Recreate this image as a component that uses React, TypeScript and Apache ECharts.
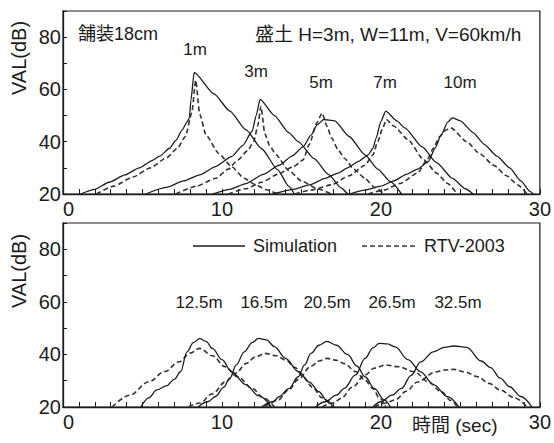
import { useEffect, useRef } from "react";
import * as echarts from "echarts";

// ---- axis ticks ----
const xMin = 0;
const xMax = 30;
const yMin = 20;
const yMax = 90;
const xLabelTicks = [0, 10, 20, 30];
const yLabelTicks = [20, 40, 60, 80];

// ---- labels ----
const topLabels = ["1m", "3m", "5m", "7m", "10m"];
const bottomLabels = ["12.5m", "16.5m", "20.5m", "26.5m", "32.5m"];
const topNote = "舗装18cm";
const topCondition = "盛土 H=3m, W=11m, V=60km/h";
const yName = "VAL(dB)";
const xName = "時間 (sec)";
const legendNames = ["Simulation", "RTV-2003"];

// ---- top panel: [time (sec), level (dB)] ----
const t1Sim = [[1.1, 20], [2.0, 21.8], [2.9, 24.5], [3.9, 27.3], [4.8, 30], [5.6, 32.8], [6.1, 34.5], [6.7, 37.5], [7.1, 40.5], [7.5, 44.5], [7.8, 47.5], [7.95, 49], [8.05, 56], [8.25, 66.5], [9.5, 58.3], [10.5, 51.7], [11.5, 44.6], [12.5, 37.3], [13.5, 29.3], [14.2, 23], [14.55, 20]];
const t1Rtv = [[2.1, 20], [3.2, 23], [4.4, 26.5], [5.5, 30], [6.5, 33.8], [7.2, 37.5], [7.7, 42], [8.1, 51], [8.35, 63.5], [8.6, 50.5], [9.0, 42.5], [9.8, 35.5], [10.6, 30.5], [11.4, 26], [12.1, 23.6], [12.8, 21.6], [13.5, 20]];
const t3Sim = [[5.2, 20], [6.5, 22.5], [7.6, 25], [8.6, 27.3], [9.6, 30.5], [10.6, 34.3], [11.3, 38.5], [11.9, 44], [12.15, 50], [12.4, 56.2], [13.3, 50], [14.2, 43.5], [14.8, 40], [15.8, 33.5], [16.7, 27.5], [17.5, 22.3], [17.9, 20]];
const t3Rtv = [[7.1, 20], [8.4, 23], [9.6, 26], [10.4, 29.5], [11.0, 33], [11.6, 36.5], [12.0, 40], [12.25, 46], [12.45, 53.5], [12.7, 43], [13.0, 38.5], [13.4, 35], [14.2, 29], [15.0, 25], [16.0, 22], [16.9, 20]];
const t5Sim = [[9.4, 20], [10.5, 21.8], [11.5, 24], [12.6, 27.5], [13.6, 31], [14.4, 34.5], [15.1, 38], [15.6, 42.5], [16.0, 46.5], [16.4, 48.5], [17.1, 48], [18.0, 42], [19.0, 35], [19.8, 29.5], [20.6, 24.7], [21.3, 20]];
const t5Rtv = [[10.4, 20], [11.5, 22], [12.5, 24.5], [13.5, 27.5], [14.5, 30.5], [15.1, 33], [15.5, 39], [15.95, 47], [16.3, 51], [16.6, 46], [16.9, 41.4], [17.3, 37], [17.7, 33.7], [18.3, 29.5], [19.0, 26], [19.6, 22.5], [20.2, 20]];
const t7Sim = [[13.2, 20], [14.5, 21.8], [15.5, 23.5], [16.5, 26], [17.3, 28], [17.9, 30], [18.6, 32.5], [19.2, 35], [19.5, 37.5], [19.7, 41.4], [20.0, 47.8], [20.3, 51.7], [21.0, 48], [21.5, 45.3], [22.6, 38], [23.5, 32], [24.5, 26], [25.3, 22], [25.8, 20]];
const t7Rtv = [[14.6, 20], [15.6, 21.5], [16.9, 23.5], [18.0, 27], [19.0, 31], [19.5, 35], [19.8, 40], [20.1, 45], [20.35, 48.5], [20.8, 46], [21.7, 40.8], [22.7, 33], [23.5, 28], [24.2, 24], [24.8, 20]];
const t10Sim = [[18.0, 20], [19.0, 21.5], [20.0, 23], [20.8, 25], [21.6, 27.5], [22.3, 29.5], [23.0, 32.5], [23.4, 37.5], [23.8, 42.7], [24.2, 47.5], [24.5, 49.1], [25.0, 48], [25.8, 43.5], [26.5, 39], [27.3, 34.5], [28.1, 30], [28.8, 25], [29.4, 20.9], [29.6, 20]];
const t10Rtv = [[19.2, 20], [20.2, 21.5], [21.2, 24], [22.3, 28], [22.9, 33], [23.3, 37.5], [23.7, 42], [24.1, 44.5], [24.4, 45.3], [25.4, 40], [26.2, 35.5], [27.1, 31], [27.9, 27], [28.6, 23.5], [29.2, 20]];

// ---- bottom panel: [time (sec), level (dB)] ----
const b12Sim = [[4.9, 20], [5.4, 23.5], [5.9, 26.5], [6.5, 28], [7.0, 30.5], [7.4, 33.5], [7.8, 41], [8.2, 44.5], [8.6, 46], [9.0, 45], [9.4, 42.3], [10.0, 38], [10.6, 33.4], [11.5, 28.5], [12.3, 24.3], [13.1, 20]];
const b12Rtv = [[3.1, 20], [4.2, 24.5], [5.4, 29.6], [6.4, 33.5], [7.3, 37.2], [8.0, 40.5], [8.6, 42.3], [9.4, 39.5], [10.2, 35.3], [11.0, 31.5], [11.9, 27.1], [12.6, 23.5], [13.3, 20]];
const b16Sim = [[8.5, 20], [9.1, 22], [9.6, 24], [10.1, 27.5], [10.5, 31], [10.9, 36], [11.4, 41], [11.9, 44.5], [12.3, 46.1], [12.8, 45.5], [13.3, 43], [14.0, 38.5], [14.8, 33.5], [15.5, 29.5], [16.1, 25.8], [16.6, 22.5], [17.0, 20]];
const b16Rtv = [[7.9, 20], [8.6, 21.5], [9.4, 25], [10.2, 29.5], [10.9, 33], [11.5, 36.5], [12.1, 39], [12.7, 40.4], [13.4, 39.5], [14.0, 37.9], [14.6, 35], [15.1, 31.5], [15.7, 27.5], [16.3, 23.5], [16.9, 20]];
const b20Sim = [[12.5, 20], [13.2, 22], [13.6, 23.9], [14.2, 27], [14.8, 31.5], [15.2, 36], [15.6, 40.4], [16.1, 43.5], [16.6, 45], [17.2, 43.5], [17.9, 40], [18.5, 35.5], [19.0, 31.5], [19.6, 27], [20.2, 22.7], [20.6, 20]];
const b20Rtv = [[12.7, 20], [13.5, 22.5], [14.2, 26.5], [14.8, 30.5], [15.6, 35.5], [16.1, 37.5], [16.6, 38.5], [17.2, 37.8], [17.7, 36.5], [18.4, 33.5], [19.0, 30.3], [19.5, 27], [19.9, 23.5], [20.3, 20]];
const b26Sim = [[15.9, 20], [16.5, 22], [17.2, 24.5], [17.7, 27.1], [18.4, 32.2], [19.0, 38.5], [19.5, 42.5], [19.9, 44.2], [20.4, 44], [20.9, 42.9], [21.7, 38], [22.5, 33.4], [23.3, 28.5], [24.2, 23.9], [24.9, 20]];
const b26Rtv = [[16.3, 20], [17.0, 21.5], [17.5, 23.3], [18.2, 27.5], [19.0, 32.2], [19.6, 34.8], [20.3, 36], [21.1, 35.3], [22.1, 33.4], [23.0, 29.5], [23.8, 25.8], [24.4, 22.5], [24.8, 20]];
const b32Sim = [[19.5, 20], [20.0, 22], [20.7, 24.5], [21.3, 27.1], [21.9, 32], [22.5, 37.2], [23.3, 41], [24.0, 42.7], [24.6, 43.2], [25.4, 42.7], [26.3, 37.5], [26.9, 35], [27.5, 31], [28.1, 27.7], [28.8, 24], [29.5, 20]];
const b32Rtv = [[19.6, 20], [20.3, 21.5], [20.9, 22.7], [21.6, 26], [22.3, 29.5], [23.4, 33.2], [24.0, 34.1], [24.6, 34.3], [25.3, 33.3], [26.1, 31.5], [26.8, 29], [27.5, 26.5], [28.4, 23.5], [29.2, 20]];

const topSim = [t1Sim, t3Sim, t5Sim, t7Sim, t10Sim];
const topRtv = [t1Rtv, t3Rtv, t5Rtv, t7Rtv, t10Rtv];
const botSim = [b12Sim, b16Sim, b20Sim, b26Sim, b32Sim];
const botRtv = [b12Rtv, b16Rtv, b20Rtv, b26Rtv, b32Rtv];

const FONT = "'Liberation Sans', Arial, 'Noto Sans CJK JP', sans-serif";
const INK = "#1c1c1c";
const DASH = [5, 3];

function makeSeries(data: number[][], dashed: boolean, idx: number, smooth: number) {
  return {
    type: "line",
    name: dashed ? legendNames[1] : legendNames[0],
    xAxisIndex: idx,
    yAxisIndex: idx,
    data,
    symbol: "none",
    showSymbol: false,
    smooth,
    smoothMonotone: "x",
    silent: true,
    z: dashed ? 2 : 3,
    itemStyle: { color: dashed ? "#333" : INK },
    lineStyle: {
      color: dashed ? "#333" : INK,
      width: dashed ? 1.6 : 1.3,
      type: dashed ? DASH : "solid",
    },
  };
}

function xAxisDef(idx: number) {
  return {
    type: "value",
    gridIndex: idx,
    min: xMin,
    max: xMax,
    interval: 1,
    axisLine: { show: true, lineStyle: { color: INK, width: 1.3 } },
    axisTick: { show: true, inside: true, length: 5, lineStyle: { color: INK, width: 1 } },
    axisLabel: {
      show: true,
      margin: 5,
      fontSize: 20,
      fontFamily: FONT,
      color: INK,
      alignMinLabel: "left",
      formatter: (v: number) => (xLabelTicks.includes(v) ? String(v) : ""),
    },
    splitLine: { show: false },
  };
}

function yAxisDef(idx: number) {
  return {
    type: "value",
    gridIndex: idx,
    min: yMin,
    max: yMax,
    interval: 10,
    axisLine: { show: true, lineStyle: { color: INK, width: 1.3 } },
    axisTick: { show: true, inside: true, length: 4, lineStyle: { color: INK, width: 1 } },
    axisLabel: {
      show: true,
      margin: 2,
      fontSize: 20,
      fontFamily: FONT,
      color: INK,
      formatter: (v: number) => (yLabelTicks.includes(v) ? String(v) : ""),
    },
    splitLine: { show: false },
  };
}

function textEl(text: string, x: number, y: number, size: number, align = "center", rotation = 0) {
  return {
    type: "text",
    x,
    y,
    rotation,
    silent: true,
    style: {
      text,
      fill: INK,
      font: `${size}px ${FONT}`,
      align,
      verticalAlign: "middle",
    },
  };
}

function lineEl(x1: number, x2: number, y: number, dashed: boolean) {
  return {
    type: "line",
    silent: true,
    shape: { x1, y1: y, x2, y2: y },
    style: { stroke: dashed ? "#333" : INK, lineWidth: dashed ? 1.6 : 1.3, lineDash: dashed ? DASH : null },
  };
}

const topLabelPos = [[195, 49], [256, 71], [321, 82], [385, 82], [460, 82]];
const botLabelPos = [[199, 302], [264, 302], [327, 302], [392, 302], [458, 302]];

export default function App() {
  const ref = useRef<HTMLDivElement>(null);
  useEffect(() => {
    if (!ref.current) return;
    const chart = echarts.init(ref.current, undefined, { renderer: "svg" });
    const series: any[] = [];
    topRtv.forEach((d) => series.push(makeSeries(d, true, 0, 0.2)));
    topSim.forEach((d) => series.push(makeSeries(d, false, 0, 0.2)));
    botRtv.forEach((d) => series.push(makeSeries(d, true, 1, 0.35)));
    botSim.forEach((d) => series.push(makeSeries(d, false, 1, 0.35)));

    const graphics: any[] = [
      textEl(topNote, 78, 34, 18, "left"),
      textEl(topCondition, 255, 34, 19, "left"),
      textEl(yName, 19, 58, 20, "center", Math.PI / 2),
      textEl(yName, 19, 271, 20, "center", Math.PI / 2),
      textEl(xName, 412, 425, 19, "left"),
      // legend
      lineEl(193, 245, 246, false),
      textEl(legendNames[0], 253, 246, 18, "left"),
      lineEl(362, 418, 246, true),
      textEl(legendNames[1], 424, 246, 18, "left"),
    ];
    topLabels.forEach((t, i) => graphics.push(textEl(t, topLabelPos[i][0], topLabelPos[i][1], 17)));
    bottomLabels.forEach((t, i) => graphics.push(textEl(t, botLabelPos[i][0], botLabelPos[i][1], 17)));

    chart.setOption({
      animation: false,
      backgroundColor: "#ffffff",
      grid: [
        { left: 63, top: 11, width: 481, height: 183, show: true, borderColor: INK, borderWidth: 1.2, backgroundColor: "transparent" },
        { left: 63, top: 223, width: 481, height: 184, show: true, borderColor: INK, borderWidth: 1.2, backgroundColor: "transparent" },
      ],
      xAxis: [xAxisDef(0), xAxisDef(1)],
      yAxis: [yAxisDef(0), yAxisDef(1)],
      graphic: graphics,
      series,
    });
    return () => chart.dispose();
  }, []);
  return (
    <div
      ref={ref}
      style={{ position: "fixed", left: 0, top: 0, width: 554, height: 443, background: "#fff" }}
    />
  );
}
